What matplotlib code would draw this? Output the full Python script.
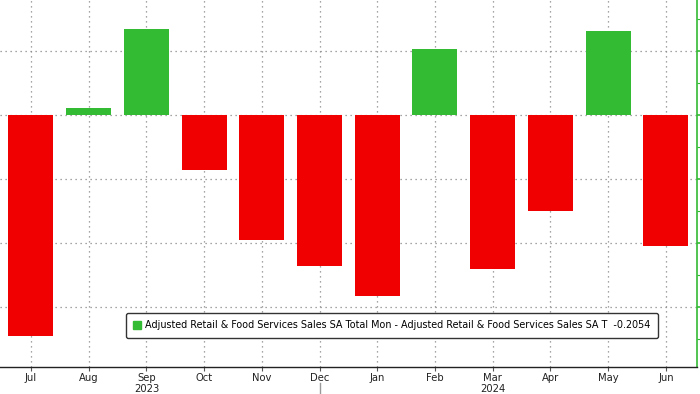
import numpy as np
import matplotlib
matplotlib.use('Agg')
from matplotlib import pyplot as plt
from matplotlib.ticker import MultipleLocator
import matplotlib.patches as mpatches

months = ['Jul', 'Aug', 'Sep', 'Oct', 'Nov', 'Dec', 'Jan', 'Feb', 'Mar', 'Apr', 'May', 'Jun']
values = [-0.345, 0.011, 0.135, -0.086, -0.195, -0.236, -0.283, 0.103, -0.240, -0.150, 0.131, -0.2054]
years = ['2023', '2024']
year_pos = [2, 8]
legend_label = ('Adjusted Retail & Food Services Sales SA Total Mon - '
                'Adjusted Retail & Food Services Sales SA T  -0.2054')

green = '#33bb33'
red = '#f00000'

fig = plt.figure(figsize=(7, 3.94), dpi=100)
ax = fig.add_axes([0, 1 - 367 / 394, 697 / 700, 367 / 394])

x = np.arange(len(months))
colors = [green if v >= 0 else red for v in values]
ax.bar(x, values, width=0.78, color=colors, zorder=2)

ax.set_xlim(-0.537, 11.54)
ax.set_ylim(-0.394, 0.18)

# grid
ax.yaxis.set_major_locator(MultipleLocator(0.1))
ax.yaxis.set_minor_locator(MultipleLocator(0.05))
ax.grid(True, which='major', linestyle=(0, (1, 3)), color='#888888', linewidth=0.9, zorder=1)

ax.set_xticks(x)
ax.set_xticklabels(months, fontsize=7.2, color='#222222')
ax.tick_params(axis='x', length=3, color='#555555', pad=1)

# right axis: green spine and ticks, labels fall outside
ax.yaxis.tick_right()
ax.tick_params(axis='y', which='both', colors=green, labelright=False, direction='out')
ax.tick_params(axis='y', which='major', length=4, width=1.2)
ax.tick_params(axis='y', which='minor', length=2.5, width=0.8)

for s in ['top', 'left']:
    ax.spines[s].set_visible(False)
ax.spines['right'].set_color(green)
ax.spines['right'].set_linewidth(1.2)
ax.spines['bottom'].set_color('#222222')
ax.spines['bottom'].set_linewidth(1.0)

# year labels
for p, yr in zip(year_pos, years):
    ax.text(p, -0.059, yr, transform=ax.get_xaxis_transform(), ha='center', va='center',
            fontsize=7.2, color='#222222', clip_on=False)
# year separator
ax.plot([5, 5], [-0.044, -0.08], transform=ax.get_xaxis_transform(), color='#999999',
        linewidth=1, clip_on=False)

handle = mpatches.Patch(color=green, label=legend_label)
leg = ax.legend(handles=[handle], loc='lower right', bbox_to_anchor=(658 / 697, 29 / 367),
                fontsize=6.9, frameon=True, fancybox=True, handlelength=0.8, handleheight=0.8,
                handletextpad=0.4, borderpad=0.8, borderaxespad=0)
leg.get_frame().set_edgecolor('#333333')
leg.get_frame().set_linewidth(1.0)
leg.get_frame().set_alpha(1)

fig.savefig('out.png', dpi=100)
